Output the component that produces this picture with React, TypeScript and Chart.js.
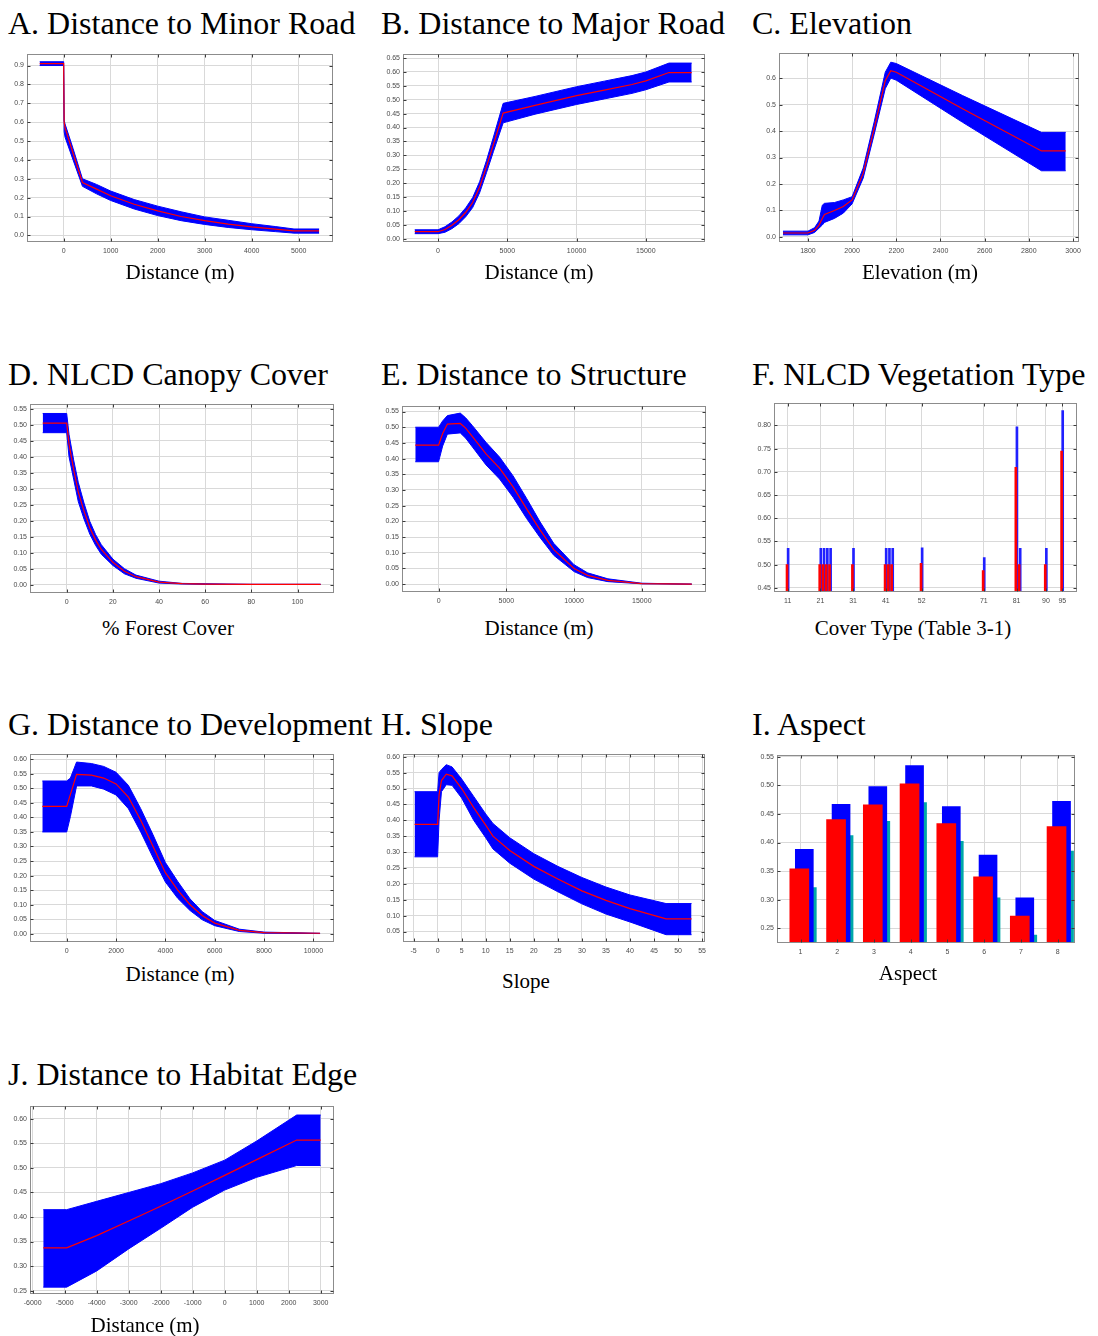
import React, { useEffect, useRef } from 'react';
import { Chart, registerables } from 'chart.js';

Chart.register(...registerables);

// ---------------- DATA ----------------
// A. Distance to Minor Road
const aX = [-510, 0, 10, 30, 200, 400, 700, 1000, 1500, 2000, 2500, 3000, 3500, 4000, 4500, 4900, 5435];
const aMean = [0.91, 0.91, 0.6, 0.57, 0.435, 0.28, 0.245, 0.21, 0.165, 0.13, 0.1, 0.078, 0.06, 0.045, 0.033, 0.024, 0.024];
const aUpper = [0.92, 0.92, 0.61, 0.59, 0.46, 0.3, 0.27, 0.235, 0.19, 0.155, 0.125, 0.098, 0.08, 0.062, 0.047, 0.034, 0.034];
const aLower = [0.9, 0.9, 0.55, 0.52, 0.4, 0.26, 0.22, 0.185, 0.14, 0.105, 0.078, 0.058, 0.042, 0.03, 0.02, 0.012, 0.012];
const aXTicks = [0, 1000, 2000, 3000, 4000, 5000];

// B. Distance to Major Road
const bX = [-1683, 0, 500, 1000, 1500, 2000, 2500, 3000, 3500, 4000, 4700, 7000, 10000, 12000, 14000, 15000, 16670, 18310];
const bMean = [0.025, 0.025, 0.033, 0.048, 0.068, 0.095, 0.13, 0.185, 0.26, 0.34, 0.452, 0.48, 0.515, 0.535, 0.555, 0.568, 0.598, 0.598];
const bUpper = [0.032, 0.032, 0.043, 0.06, 0.082, 0.111, 0.148, 0.205, 0.282, 0.366, 0.487, 0.512, 0.547, 0.567, 0.587, 0.6, 0.632, 0.632];
const bLower = [0.018, 0.018, 0.023, 0.036, 0.054, 0.079, 0.112, 0.165, 0.238, 0.314, 0.417, 0.448, 0.483, 0.503, 0.523, 0.536, 0.564, 0.564];
const bXTicks = [0, 5000, 10000, 15000];

// C. Elevation
const cX = [1687, 1800, 1830, 1850, 1865, 1875, 1920, 1960, 2000, 2050, 2100, 2150, 2175, 2200, 2500, 2857, 2967];
const cMean = [0.015, 0.015, 0.025, 0.045, 0.07, 0.085, 0.1, 0.115, 0.14, 0.24, 0.41, 0.59, 0.628, 0.622, 0.484, 0.325, 0.325];
const cUpper = [0.022, 0.022, 0.035, 0.06, 0.12, 0.127, 0.13, 0.14, 0.152, 0.26, 0.435, 0.622, 0.66, 0.655, 0.534, 0.395, 0.395];
const cLower = [0.008, 0.008, 0.017, 0.033, 0.045, 0.055, 0.07, 0.09, 0.125, 0.222, 0.388, 0.56, 0.6, 0.592, 0.433, 0.25, 0.25];
const cXTicks = [1800, 2000, 2200, 2400, 2600, 2800, 3000];

// D. NLCD Canopy Cover
const dX = [-10.4, 0, 1, 3, 5, 7.5, 10, 12.5, 15, 20, 25, 30, 40, 50, 60, 80, 110];
const dMean = [0.505, 0.505, 0.44, 0.36, 0.29, 0.23, 0.178, 0.14, 0.11, 0.07, 0.042, 0.025, 0.008, 0.003, 0.002, 0.001, 0.001];
const dUpper = [0.535, 0.535, 0.47, 0.39, 0.32, 0.255, 0.198, 0.157, 0.125, 0.08, 0.05, 0.03, 0.011, 0.004, 0.003, 0.001, 0.001];
const dLower = [0.475, 0.475, 0.4, 0.33, 0.26, 0.205, 0.158, 0.123, 0.095, 0.06, 0.034, 0.02, 0.005, 0.002, 0.001, 0.001, 0.001];
const dXTicks = [0, 20, 40, 60, 80, 100];

// E. Distance to Structure
const eX = [-1720, 0, 300, 650, 1600, 2000, 2500, 3500, 4500, 5500, 6500, 7500, 8500, 10000, 11000, 12500, 15000, 18690];
const eMean = [0.443, 0.443, 0.48, 0.51, 0.512, 0.497, 0.47, 0.415, 0.37, 0.31, 0.24, 0.172, 0.11, 0.05, 0.028, 0.012, 0.002, 0.0];
const eUpper = [0.5, 0.5, 0.52, 0.537, 0.545, 0.53, 0.505, 0.452, 0.405, 0.345, 0.273, 0.198, 0.13, 0.062, 0.036, 0.017, 0.003, 0.0];
const eLower = [0.39, 0.39, 0.44, 0.478, 0.482, 0.465, 0.437, 0.38, 0.335, 0.277, 0.209, 0.148, 0.092, 0.04, 0.021, 0.008, 0.001, 0.0];
const eXTicks = [0, 5000, 10000, 15000];

// F. NLCD Vegetation Type
const fTypes = [11, 21, 22, 23, 24, 31, 41, 42, 43, 52, 71, 81, 82, 90, 95];
const fRed = [0.5, 0.5, 0.5, 0.5, 0.5, 0.5, 0.5, 0.5, 0.5, 0.503, 0.487, 0.71, 0.5, 0.5, 0.745];
const fBlue = [0.535, 0.535, 0.535, 0.535, 0.535, 0.535, 0.535, 0.535, 0.535, 0.536, 0.515, 0.797, 0.535, 0.535, 0.832];
const fXTicks = [11, 21, 31, 41, 52, 71, 81, 90, 95];

// G. Distance to Development
const gX = [-989, 0, 150, 400, 1000, 1500, 2000, 2500, 3000, 3500, 4000, 4500, 5000, 5500, 6000, 7000, 8000, 10270];
const gMean = [0.438, 0.438, 0.479, 0.548, 0.545, 0.535, 0.515, 0.47, 0.39, 0.3, 0.21, 0.15, 0.1, 0.062, 0.037, 0.012, 0.004, 0.002];
const gUpper = [0.525, 0.525, 0.535, 0.59, 0.585, 0.575, 0.555, 0.51, 0.43, 0.34, 0.245, 0.18, 0.12, 0.076, 0.046, 0.016, 0.006, 0.002];
const gLower = [0.35, 0.35, 0.403, 0.508, 0.508, 0.497, 0.477, 0.43, 0.35, 0.262, 0.178, 0.122, 0.08, 0.048, 0.028, 0.008, 0.002, 0.001];
const gXTicks = [0, 2000, 4000, 6000, 8000, 10000];

// H. Slope
const hX = [-4.8, 0, 0.3, 0.8, 1.8, 3, 5, 7.5, 10, 11.5, 15, 20, 25, 30, 35, 40, 47.5, 52.8];
const hMean = [0.387, 0.387, 0.48, 0.525, 0.545, 0.54, 0.5, 0.44, 0.385, 0.35, 0.305, 0.255, 0.215, 0.178, 0.148, 0.122, 0.09, 0.09];
const hUpper = [0.49, 0.49, 0.55, 0.56, 0.575, 0.568, 0.53, 0.475, 0.42, 0.39, 0.345, 0.295, 0.255, 0.22, 0.19, 0.165, 0.138, 0.138];
const hLower = [0.285, 0.285, 0.4, 0.49, 0.512, 0.51, 0.47, 0.4, 0.345, 0.31, 0.265, 0.215, 0.175, 0.137, 0.105, 0.08, 0.04, 0.04];
const hXTicks = [-5, 0, 5, 10, 15, 20, 25, 30, 35, 40, 45, 50, 55];

// I. Aspect
const iCats = [1, 2, 3, 4, 5, 6, 7, 8];
const iRed = [0.354, 0.44, 0.466, 0.503, 0.433, 0.34, 0.271, 0.428];
const iBlue = [0.388, 0.467, 0.498, 0.535, 0.463, 0.378, 0.303, 0.472];
const iTeal = [0.321, 0.412, 0.437, 0.47, 0.402, 0.303, 0.238, 0.385];

// J. Distance to Habitat Edge
const jX = [-5670, -4938, -4000, -3000, -2000, -1000, 0, 1000, 2250, 3000];
const jMean = [0.337, 0.337, 0.362, 0.392, 0.422, 0.453, 0.485, 0.517, 0.557, 0.557];
const jUpper = [0.415, 0.415, 0.432, 0.45, 0.468, 0.49, 0.516, 0.555, 0.608, 0.608];
const jLower = [0.257, 0.257, 0.29, 0.335, 0.377, 0.42, 0.455, 0.481, 0.505, 0.505];
const jXTicks = [-6000, -5000, -4000, -3000, -2000, -1000, 0, 1000, 2000, 3000];

// ---------------- STYLE ----------------
const BLUE = '#0000ff';
const RED = '#ff0000';
const TEAL = '#00a8a8';
const SERIF = '"Liberation Serif", "Times New Roman", Times, serif';
const TICK_FONT = { family: '"Liberation Sans", Arial, sans-serif', size: 7 };
const TICK_COLOR = '#4a4a4a';
const GRID_COLOR = '#d9d9d9';

function band(xs: number[], mean: number[], upper: number[], lower: number[]) {
  const pts = (ys: number[]) => ys.map((y, i) => ({ x: xs[i], y }));
  const common = { pointRadius: 0, tension: 0 };
  return [
    { ...common, data: pts(mean), borderColor: RED, borderWidth: 1.2, fill: false },
    { ...common, data: pts(upper), borderColor: BLUE, borderWidth: 1, backgroundColor: BLUE, fill: 2 },
    { ...common, data: pts(lower), borderColor: BLUE, borderWidth: 1, fill: false },
  ];
}

function bars(xs: number[], ys: number[], color: string, thickness: number, dx: number) {
  return {
    data: ys.map((y, i) => ({ x: xs[i], y })),
    backgroundColor: color,
    borderWidth: 0,
    barThickness: thickness,
    grouped: false,
    dx,
  };
}

type PanelSpec = {
  id: string;
  title: string;
  titleX: number;
  titleBase: number;
  xTitle: string;
  xTitleCx: number;
  xTitleBase: number;
  plot: [number, number, number, number];
  kind: 'line' | 'bar';
  xMin: number;
  xMax: number;
  xTicks: number[];
  yMin: number;
  yMax: number;
  yStep: number;
  yDec: number;
  datasets: any[];
};

const PANELS: PanelSpec[] = [
  {
    id: 'A', title: 'A. Distance to Minor Road', titleX: 8, titleBase: 33.5,
    xTitle: 'Distance (m)', xTitleCx: 180, xTitleBase: 279.5,
    plot: [27, 53, 333, 242], kind: 'line',
    xMin: -780, xMax: 5730, xTicks: aXTicks, yMin: -0.035, yMax: 0.96, yStep: 0.1, yDec: 1,
    datasets: band(aX, aMean, aUpper, aLower),
  },
  {
    id: 'B', title: 'B. Distance to Major Road', titleX: 381, titleBase: 33.5,
    xTitle: 'Distance (m)', xTitleCx: 539, xTitleBase: 279.5,
    plot: [403, 53, 705, 242], kind: 'line',
    xMin: -2530, xMax: 19270, xTicks: bXTicks, yMin: -0.012, yMax: 0.664, yStep: 0.05, yDec: 2,
    datasets: band(bX, bMean, bUpper, bLower),
  },
  {
    id: 'C', title: 'C. Elevation', titleX: 752, titleBase: 33.5,
    xTitle: 'Elevation (m)', xTitleCx: 920, xTitleBase: 279.5,
    plot: [779, 52, 1079, 242], kind: 'line',
    xMin: 1669, xMax: 3027, xTicks: cXTicks, yMin: -0.019, yMax: 0.694, yStep: 0.1, yDec: 1,
    datasets: band(cX, cMean, cUpper, cLower),
  },
  {
    id: 'D', title: 'D. NLCD Canopy Cover', titleX: 8, titleBase: 385,
    xTitle: '% Forest Cover', xTitleCx: 168, xTitleBase: 636,
    plot: [30, 403, 334, 593], kind: 'line',
    xMin: -15.9, xMax: 115.8, xTicks: dXTicks, yMin: -0.026, yMax: 0.564, yStep: 0.05, yDec: 2,
    datasets: band(dX, dMean, dUpper, dLower),
  },
  {
    id: 'E', title: 'E. Distance to Structure', titleX: 381, titleBase: 385,
    xTitle: 'Distance (m)', xTitleCx: 539, xTitleBase: 636,
    plot: [402, 405, 706, 592], kind: 'line',
    xMin: -2700, xMax: 19740, xTicks: eXTicks, yMin: -0.025, yMax: 0.567, yStep: 0.05, yDec: 2,
    datasets: band(eX, eMean, eUpper, eLower),
  },
  {
    id: 'F', title: 'F. NLCD Vegetation Type', titleX: 752, titleBase: 385,
    xTitle: 'Cover Type (Table 3-1)', xTitleCx: 913, xTitleBase: 636,
    plot: [774, 402, 1077, 592], kind: 'bar',
    xMin: 6.8, xMax: 99.5, xTicks: fXTicks, yMin: 0.441, yMax: 0.848, yStep: 0.05, yDec: 2,
    datasets: [bars(fTypes, fRed, RED, 2, -0.7), bars(fTypes, fBlue, '#2020ff', 2, 0.4)],
  },
  {
    id: 'G', title: 'G. Distance to Development', titleX: 8, titleBase: 735,
    xTitle: 'Distance (m)', xTitleCx: 180, xTitleBase: 982,
    plot: [30, 753, 334, 942], kind: 'line',
    xMin: -1488, xMax: 10835, xTicks: gXTicks, yMin: -0.028, yMax: 0.617, yStep: 0.05, yDec: 2,
    datasets: band(gX, gMean, gUpper, gLower),
  },
  {
    id: 'H', title: 'H. Slope', titleX: 381, titleBase: 735,
    xTitle: 'Slope', xTitleCx: 526, xTitleBase: 989,
    plot: [403, 753, 705, 942], kind: 'line',
    xMin: -7.2, xMax: 55.6, xTicks: hXTicks, yMin: 0.017, yMax: 0.608, yStep: 0.05, yDec: 2,
    datasets: band(hX, hMean, hUpper, hLower),
  },
  {
    id: 'I', title: 'I. Aspect', titleX: 752, titleBase: 735,
    xTitle: 'Aspect', xTitleCx: 908, xTitleBase: 981,
    plot: [777, 754, 1075, 943], kind: 'bar',
    xMin: 0.36, xMax: 8.47, xTicks: iCats, yMin: 0.224, yMax: 0.553, yStep: 0.05, yDec: 2,
    datasets: [bars(iCats, iRed, RED, 19, -1.2), bars(iCats, iBlue, BLUE, 18, 3.8), bars(iCats, iTeal, TEAL, 3, 14.3)],
  },
  {
    id: 'J', title: 'J. Distance to Habitat Edge', titleX: 8, titleBase: 1085,
    xTitle: 'Distance (m)', xTitleCx: 145, xTitleBase: 1333,
    plot: [30, 1105, 334, 1294], kind: 'line',
    xMin: -6084, xMax: 3416, xTicks: jXTicks, yMin: 0.243, yMax: 0.626, yStep: 0.05, yDec: 2,
    datasets: band(jX, jMean, jUpper, jLower),
  },
];

// ---------------- PLUGINS ----------------
const framePlugin = {
  id: 'frame',
  afterDatasetsDraw(chart: any) {
    const { ctx, chartArea: a, scales } = chart;
    const l = Math.round(a.left) + 0.5;
    const t = Math.round(a.top) + 0.5;
    const r = Math.round(a.right) - 0.5;
    const b = Math.round(a.bottom) - 0.5;
    ctx.save();
    ctx.lineWidth = 1;
    ctx.strokeStyle = '#8c8c8c';
    ctx.strokeRect(l, t, r - l, b - t);
    ctx.strokeStyle = '#3a3a3a';
    ctx.beginPath();
    for (const tk of scales.x.ticks) {
      const px = Math.round(scales.x.getPixelForValue(tk.value)) + 0.5;
      ctx.moveTo(px, b); ctx.lineTo(px, b - 3);
      ctx.moveTo(px, t); ctx.lineTo(px, t + 3);
    }
    for (const tk of scales.y.ticks) {
      const py = Math.round(scales.y.getPixelForValue(tk.value)) + 0.5;
      ctx.moveTo(l, py); ctx.lineTo(l + 3, py);
      ctx.moveTo(r, py); ctx.lineTo(r - 3, py);
    }
    ctx.stroke();
    ctx.restore();
  },
};

const shiftPlugin = {
  id: 'shift',
  beforeDatasetDraw(chart: any, args: any) {
    const dx = chart.data.datasets[args.index].dx;
    if (dx) {
      chart.ctx.save();
      chart.ctx.translate(dx, 0);
    }
  },
  afterDatasetDraw(chart: any, args: any) {
    const dx = chart.data.datasets[args.index].dx;
    if (dx) chart.ctx.restore();
  },
};

// ---------------- COMPONENTS ----------------
const YW = 34;
const PT = 6;
const PR = 14;
const XH = 20;

function PanelChart({ spec }: { spec: PanelSpec }) {
  const ref = useRef<HTMLCanvasElement>(null);
  const [l, t, r, b] = spec.plot;
  const w = r - l + YW + PR;
  const h = b - t + PT + XH;

  useEffect(() => {
    const chart = new Chart(ref.current as HTMLCanvasElement, {
      type: spec.kind,
      data: { datasets: spec.datasets },
      options: {
        animation: false,
        responsive: false,
        maintainAspectRatio: false,
        events: [],
        layout: { padding: { left: 0, top: PT, right: PR, bottom: 0 } },
        plugins: { legend: { display: false }, tooltip: { enabled: false } },
        scales: {
          x: {
            type: 'linear',
            min: spec.xMin,
            max: spec.xMax,
            offset: false,
            afterFit: (s: any) => { s.height = XH; },
            afterBuildTicks: (s: any) => {
              s.ticks = spec.xTicks.map((v) => ({ value: v }));
            },
            ticks: {
              autoSkip: false,
              maxRotation: 0,
              padding: 5,
              font: TICK_FONT,
              color: TICK_COLOR,
              callback: (v: any) => String(v),
            },
            grid: { color: GRID_COLOR, drawTicks: false, offset: false },
            border: { display: false },
          },
          y: {
            type: 'linear',
            min: spec.yMin,
            max: spec.yMax,
            beginAtZero: false,
            afterFit: (s: any) => { s.width = YW; },
            ticks: {
              stepSize: spec.yStep,
              includeBounds: false,
              padding: 3,
              font: TICK_FONT,
              color: TICK_COLOR,
              callback: (v: any) => Number(v).toFixed(spec.yDec),
            },
            grid: { color: GRID_COLOR, drawTicks: false },
            border: { display: false },
          },
        },
      } as any,
      plugins: [framePlugin, shiftPlugin],
    } as any);
    return () => chart.destroy();
  }, []);

  return (
    <canvas
      ref={ref}
      width={w}
      height={h}
      style={{ position: 'absolute', left: l - YW, top: t - PT, width: w, height: h, display: 'block' }}
    />
  );
}

function Label({ text, x, base, size, center }: { text: string; x: number; base: number; size: number; center?: boolean }) {
  return (
    <div
      style={{
        position: 'absolute',
        left: x,
        top: base - 0.8375 * size,
        fontFamily: SERIF,
        fontSize: size,
        lineHeight: 1,
        whiteSpace: 'nowrap',
        color: '#000',
        transform: center ? 'translateX(-50%)' : undefined,
      }}
    >
      {text}
    </div>
  );
}

export default function App() {
  return (
    <div style={{ position: 'absolute', left: 0, top: 0, width: 1098, height: 1336, background: '#fff', overflow: 'hidden' }}>
      {PANELS.map((p) => (
        <React.Fragment key={p.id}>
          <Label text={p.title} x={p.titleX} base={p.titleBase} size={32} />
          <PanelChart spec={p} />
          <Label text={p.xTitle} x={p.xTitleCx} base={p.xTitleBase} size={21} center />
        </React.Fragment>
      ))}
    </div>
  );
}
